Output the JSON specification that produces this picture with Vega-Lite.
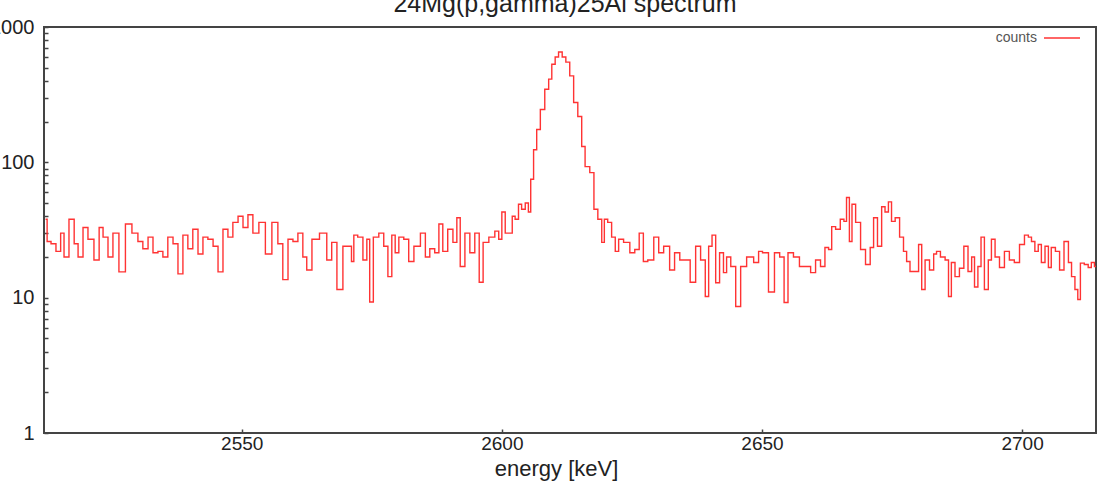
{
  "$schema": "https://vega.github.io/schema/vega-lite/v6.json",
  "width": 1052,
  "height": 406,
  "autosize": {"type": "none"},
  "padding": {"left": 44, "top": 27, "right": 3, "bottom": 51},
  "background": "white",
  "title": {
    "text": "24Mg(p,gamma)25Al spectrum",
    "font": "Liberation Sans",
    "fontSize": 25,
    "fontWeight": "normal",
    "color": "#222222",
    "anchor": "middle",
    "baseline": "alphabetic",
    "offset": 0,
    "dx": -5,
    "dy": 20
  },
  "config": {
    "view": {"stroke": "#444444", "strokeWidth": 2},
    "axis": {"domain": false, "grid": false, "labelFont": "Liberation Sans", "titleFont": "Liberation Sans"}
  },
  "data": {
    "values": [
      {"energy": 2512.3, "counts": 38}, {"energy": 2512.9, "counts": 26}, {"energy": 2513.8, "counts": 25},
      {"energy": 2514.8, "counts": 22}, {"energy": 2515.6, "counts": 30}, {"energy": 2516.1, "counts": 20},
      {"energy": 2517.5, "counts": 38}, {"energy": 2518.1, "counts": 25}, {"energy": 2519.0, "counts": 20},
      {"energy": 2520.0, "counts": 33}, {"energy": 2520.9, "counts": 27}, {"energy": 2522.3, "counts": 19},
      {"energy": 2522.9, "counts": 33}, {"energy": 2523.8, "counts": 28}, {"energy": 2524.8, "counts": 20},
      {"energy": 2525.7, "counts": 30}, {"energy": 2527.1, "counts": 15.5}, {"energy": 2528.2, "counts": 35},
      {"energy": 2529.6, "counts": 30}, {"energy": 2530.5, "counts": 26}, {"energy": 2531.5, "counts": 23},
      {"energy": 2532.5, "counts": 28}, {"energy": 2533.4, "counts": 21.5}, {"energy": 2534.4, "counts": 22},
      {"energy": 2535.3, "counts": 20}, {"energy": 2536.3, "counts": 28}, {"energy": 2537.3, "counts": 25},
      {"energy": 2538.2, "counts": 15}, {"energy": 2539.2, "counts": 29}, {"energy": 2540.1, "counts": 23},
      {"energy": 2541.1, "counts": 32}, {"energy": 2542.1, "counts": 21}, {"energy": 2543.0, "counts": 28},
      {"energy": 2544.0, "counts": 27}, {"energy": 2545.0, "counts": 24}, {"energy": 2545.9, "counts": 15.5},
      {"energy": 2546.9, "counts": 32}, {"energy": 2547.8, "counts": 28}, {"energy": 2548.8, "counts": 36},
      {"energy": 2549.8, "counts": 40}, {"energy": 2550.7, "counts": 33}, {"energy": 2551.7, "counts": 41},
      {"energy": 2552.6, "counts": 30}, {"energy": 2554.0, "counts": 36}, {"energy": 2555.1, "counts": 21},
      {"energy": 2556.5, "counts": 36}, {"energy": 2557.4, "counts": 25}, {"energy": 2558.4, "counts": 13.6},
      {"energy": 2559.4, "counts": 27}, {"energy": 2560.3, "counts": 26}, {"energy": 2561.3, "counts": 30},
      {"energy": 2562.2, "counts": 20}, {"energy": 2562.8, "counts": 16}, {"energy": 2564.2, "counts": 27},
      {"energy": 2565.7, "counts": 30}, {"energy": 2567.0, "counts": 19}, {"energy": 2567.6, "counts": 25.6},
      {"energy": 2569.0, "counts": 11.5}, {"energy": 2569.9, "counts": 24}, {"energy": 2570.9, "counts": 24},
      {"energy": 2571.3, "counts": 18.5}, {"energy": 2571.8, "counts": 29}, {"energy": 2572.8, "counts": 28},
      {"energy": 2573.8, "counts": 19}, {"energy": 2574.3, "counts": 27}, {"energy": 2574.9, "counts": 9.3},
      {"energy": 2575.7, "counts": 28}, {"energy": 2577.0, "counts": 30}, {"energy": 2577.6, "counts": 24},
      {"energy": 2578.6, "counts": 14.3}, {"energy": 2579.1, "counts": 29}, {"energy": 2579.9, "counts": 21.5},
      {"energy": 2580.5, "counts": 28}, {"energy": 2581.8, "counts": 27}, {"energy": 2582.4, "counts": 18.5},
      {"energy": 2583.8, "counts": 24}, {"energy": 2584.9, "counts": 30}, {"energy": 2585.7, "counts": 20},
      {"energy": 2586.6, "counts": 23}, {"energy": 2587.6, "counts": 21.5}, {"energy": 2588.2, "counts": 35},
      {"energy": 2589.1, "counts": 22}, {"energy": 2590.1, "counts": 32}, {"energy": 2591.1, "counts": 25.6},
      {"energy": 2591.6, "counts": 39}, {"energy": 2592.4, "counts": 17}, {"energy": 2593.4, "counts": 30},
      {"energy": 2594.3, "counts": 21.5}, {"energy": 2595.3, "counts": 30}, {"energy": 2596.0, "counts": 13},
      {"energy": 2596.8, "counts": 25.6}, {"energy": 2598.2, "counts": 28}, {"energy": 2599.1, "counts": 31},
      {"energy": 2599.7, "counts": 27}, {"energy": 2600.3, "counts": 43}, {"energy": 2601.0, "counts": 30},
      {"energy": 2601.8, "counts": 30}, {"energy": 2602.2, "counts": 40}, {"energy": 2602.9, "counts": 38},
      {"energy": 2603.5, "counts": 49}, {"energy": 2604.1, "counts": 45}, {"energy": 2604.9, "counts": 50},
      {"energy": 2605.3, "counts": 43}, {"energy": 2605.8, "counts": 75}, {"energy": 2606.4, "counts": 124},
      {"energy": 2607.0, "counts": 175}, {"energy": 2607.8, "counts": 246}, {"energy": 2608.7, "counts": 347},
      {"energy": 2609.3, "counts": 412}, {"energy": 2609.9, "counts": 530}, {"energy": 2610.6, "counts": 600},
      {"energy": 2611.2, "counts": 653}, {"energy": 2612.0, "counts": 600}, {"energy": 2612.6, "counts": 550},
      {"energy": 2613.5, "counts": 435}, {"energy": 2614.1, "counts": 277}, {"energy": 2615.1, "counts": 218},
      {"energy": 2615.6, "counts": 131}, {"energy": 2616.4, "counts": 93}, {"energy": 2617.4, "counts": 84},
      {"energy": 2618.0, "counts": 45}, {"energy": 2618.9, "counts": 38}, {"energy": 2619.5, "counts": 25.6},
      {"energy": 2619.9, "counts": 38}, {"energy": 2620.8, "counts": 36}, {"energy": 2621.4, "counts": 28},
      {"energy": 2622.2, "counts": 22}, {"energy": 2622.7, "counts": 27}, {"energy": 2624.1, "counts": 25.6},
      {"energy": 2625.1, "counts": 21.5}, {"energy": 2626.0, "counts": 22.7}, {"energy": 2626.8, "counts": 30},
      {"energy": 2627.6, "counts": 18.5}, {"energy": 2628.5, "counts": 19}, {"energy": 2629.9, "counts": 28},
      {"energy": 2630.4, "counts": 21.5}, {"energy": 2631.8, "counts": 24}, {"energy": 2632.7, "counts": 16},
      {"energy": 2633.7, "counts": 21.5}, {"energy": 2634.7, "counts": 19}, {"energy": 2635.6, "counts": 19},
      {"energy": 2636.8, "counts": 13}, {"energy": 2637.7, "counts": 24}, {"energy": 2638.7, "counts": 19},
      {"energy": 2639.5, "counts": 10.2}, {"energy": 2640.0, "counts": 24}, {"energy": 2640.8, "counts": 29},
      {"energy": 2641.4, "counts": 12.9}, {"energy": 2642.3, "counts": 21.5}, {"energy": 2642.9, "counts": 15.3},
      {"energy": 2643.5, "counts": 20}, {"energy": 2644.5, "counts": 17}, {"energy": 2645.4, "counts": 8.6},
      {"energy": 2646.4, "counts": 17}, {"energy": 2647.7, "counts": 20}, {"energy": 2649.1, "counts": 18.2},
      {"energy": 2649.6, "counts": 22}, {"energy": 2650.6, "counts": 21.5}, {"energy": 2651.9, "counts": 11},
      {"energy": 2652.9, "counts": 21.5}, {"energy": 2653.9, "counts": 20}, {"energy": 2654.6, "counts": 9.2},
      {"energy": 2655.4, "counts": 21.5}, {"energy": 2656.7, "counts": 20}, {"energy": 2657.7, "counts": 17},
      {"energy": 2658.9, "counts": 17}, {"energy": 2659.8, "counts": 15.3}, {"energy": 2660.8, "counts": 19},
      {"energy": 2661.7, "counts": 17}, {"energy": 2662.5, "counts": 23.5}, {"energy": 2663.1, "counts": 22.7},
      {"energy": 2663.7, "counts": 33.5}, {"energy": 2664.6, "counts": 32}, {"energy": 2665.5, "counts": 38},
      {"energy": 2666.0, "counts": 36.6}, {"energy": 2666.5, "counts": 55}, {"energy": 2667.1, "counts": 26},
      {"energy": 2667.5, "counts": 49}, {"energy": 2668.5, "counts": 36}, {"energy": 2669.4, "counts": 22.7},
      {"energy": 2670.4, "counts": 17.6}, {"energy": 2671.2, "counts": 23.5}, {"energy": 2671.7, "counts": 39},
      {"energy": 2672.7, "counts": 24}, {"energy": 2673.3, "counts": 47}, {"energy": 2674.0, "counts": 43},
      {"energy": 2674.6, "counts": 51}, {"energy": 2675.2, "counts": 36.6}, {"energy": 2676.0, "counts": 39},
      {"energy": 2676.9, "counts": 28}, {"energy": 2677.5, "counts": 22}, {"energy": 2678.1, "counts": 18.5},
      {"energy": 2678.8, "counts": 15.6}, {"energy": 2679.8, "counts": 15.6}, {"energy": 2680.4, "counts": 24.7},
      {"energy": 2681.0, "counts": 11.5}, {"energy": 2681.7, "counts": 19}, {"energy": 2682.7, "counts": 16},
      {"energy": 2683.3, "counts": 21}, {"energy": 2683.8, "counts": 22}, {"energy": 2684.8, "counts": 20},
      {"energy": 2685.6, "counts": 19}, {"energy": 2686.1, "counts": 10.2}, {"energy": 2686.7, "counts": 18.2},
      {"energy": 2687.5, "counts": 14.3}, {"energy": 2688.4, "counts": 16.5}, {"energy": 2689.2, "counts": 24},
      {"energy": 2690.0, "counts": 15.6}, {"energy": 2690.6, "counts": 20}, {"energy": 2691.1, "counts": 12},
      {"energy": 2691.9, "counts": 17}, {"energy": 2692.3, "counts": 28}, {"energy": 2693.2, "counts": 11.5},
      {"energy": 2693.8, "counts": 19}, {"energy": 2694.4, "counts": 27}, {"energy": 2695.2, "counts": 20},
      {"energy": 2696.1, "counts": 16.7}, {"energy": 2697.1, "counts": 22}, {"energy": 2698.0, "counts": 19},
      {"energy": 2699.0, "counts": 18.2}, {"energy": 2700.0, "counts": 24.7}, {"energy": 2700.9, "counts": 29},
      {"energy": 2701.5, "counts": 28}, {"energy": 2702.1, "counts": 26}, {"energy": 2702.8, "counts": 22},
      {"energy": 2703.4, "counts": 24.7}, {"energy": 2704.0, "counts": 18.2}, {"energy": 2704.8, "counts": 24},
      {"energy": 2705.3, "counts": 16.7}, {"energy": 2705.9, "counts": 23.5}, {"energy": 2706.9, "counts": 22},
      {"energy": 2707.5, "counts": 16}, {"energy": 2708.6, "counts": 26}, {"energy": 2709.2, "counts": 18.2},
      {"energy": 2709.8, "counts": 14.3}, {"energy": 2710.5, "counts": 11.5}, {"energy": 2710.9, "counts": 9.7},
      {"energy": 2711.5, "counts": 18}, {"energy": 2712.4, "counts": 17.6}, {"energy": 2713.0, "counts": 16.7},
      {"energy": 2713.6, "counts": 18.2}, {"energy": 2714.2, "counts": 17}
    ]
  },
  "layer": [
    {
      "mark": {"type": "line", "interpolate": "step", "strokeWidth": 1.4, "clip": true},
      "encoding": {
        "x": {
          "field": "energy", "type": "quantitative",
          "scale": {"domain": [2512, 2714.2], "nice": false, "zero": false},
          "axis": {
            "orient": "bottom", "values": [2550, 2600, 2650, 2700], "format": "d",
            "title": "energy [keV]", "titleFontSize": 22, "titleFontWeight": "normal", "titleColor": "#222222",
            "titlePadding": 5, "titleX": 512,
            "labelFontSize": 19, "labelColor": "#222222", "labelPadding": 5, "labelFlush": false,
            "ticks": true, "tickSize": -4, "tickColor": "#444444", "tickWidth": 1.5
          }
        },
        "y": {
          "field": "counts", "type": "quantitative",
          "scale": {"type": "log", "domain": [1, 1000], "nice": false},
          "axis": {
            "orient": "left", "title": null,
            "values": [1,2,3,4,5,6,7,8,9,10,20,30,40,50,60,70,80,90,100,200,300,400,500,600,700,800,900,1000],
            "labelExpr": "datum.value == 1 || datum.value == 10 || datum.value == 100 || datum.value == 1000 ? format(datum.value, 'd') : ''",
            "labelOverlap": false, "labelFlush": false,
            "labelFontSize": 20, "labelColor": "#222222", "labelPadding": 14,
            "ticks": true, "tickSize": -4, "tickColor": "#444444", "tickWidth": 1.5
          }
        },
        "color": {
          "datum": "counts", "type": "nominal",
          "scale": {"range": ["#ff3333"]},
          "legend": {
            "orient": "none", "legendX": 999, "legendY": -8, "title": null,
            "symbolType": "stroke", "symbolSize": 1300, "symbolStrokeWidth": 1.5,
            "labelFont": "Liberation Sans", "labelFontSize": 14, "labelColor": "#555555",
            "labelAlign": "right", "labelOffset": -44, "padding": 0
          }
        }
      }
    }
  ]
}
